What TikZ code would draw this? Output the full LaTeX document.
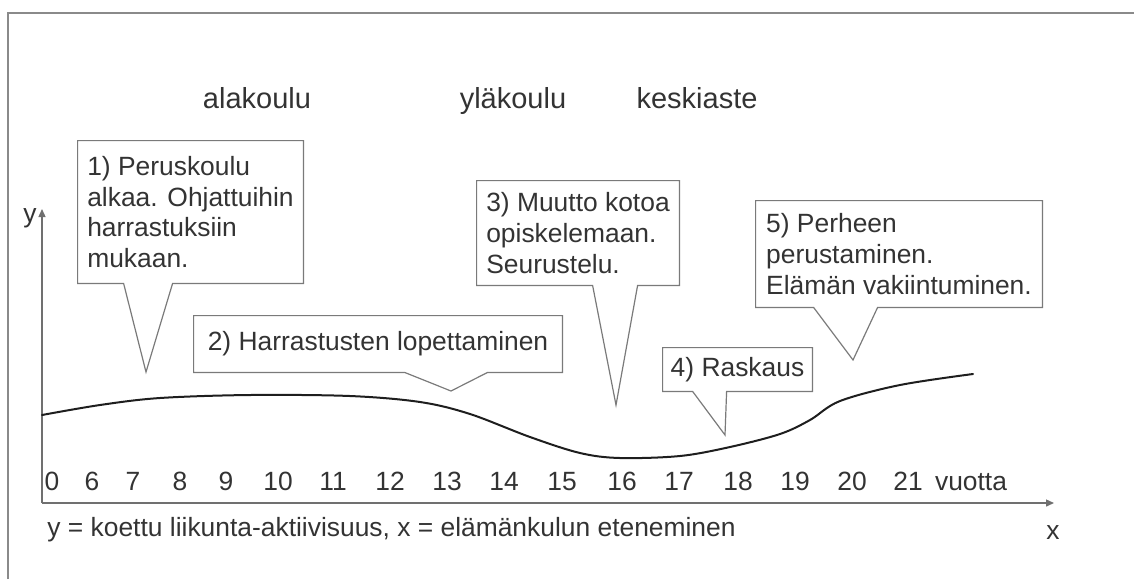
\documentclass[tikz,border=0pt]{standalone}
\usepackage{fontspec}
\setmainfont{Liberation Sans}
\usepackage{xcolor}
\definecolor{lifeText}{HTML}{333333}
\definecolor{lifeFrame}{HTML}{8A8A8A}
\definecolor{lifeAxis}{HTML}{707070}
\definecolor{lifeBox}{HTML}{7A7A7A}
\definecolor{lifeCurve}{HTML}{1E1E1E}
\usetikzlibrary{arrows.meta,calc}
\newcommand{\lifefont}{\fontsize{13.2}{15.4}\selectfont}
\newcommand{\stagefont}{\fontsize{14.5}{17}\selectfont}
\tikzset{
    bubble/.style={
        rectangle,
        align=left,
        inner sep=0pt,
        font=\lifefont,
        text=lifeText
    },
    bubbleline/.style={
        draw=lifeBox,
        line width=0.6pt,
        line join=miter
    },
    stage/.style={
        font=\stagefont,
        text=lifeText,
        inner sep=0pt,
        anchor=base
    },
    yearlabel/.style={
        font=\lifefont,
        text=lifeText,
        inner sep=0pt,
        anchor=base
    },
    axisline/.style={
        draw=lifeAxis,
        line width=0.7pt,
        -{Triangle[length=4pt,width=3.5pt]}
    },
    frameline/.style={
        draw=lifeFrame,
        line width=0.8pt
    },
    curve/.style={
        draw=lifeCurve,
        line width=1pt,
        line cap=round
    }
}

\begin{document}
\begin{tikzpicture}[x=0.5pt,y=-0.5pt]
    \useasboundingbox (0,0) rectangle (1134,579);
    \draw[frameline] (8,579) -- (8,13) -- (1134,13);

    % school stages
    \node[stage] (ala) at (257,108) {alakoulu};
    \node[stage] (yla) at (513,108) {yläkoulu};
    \node[stage] (keski) at (697,108) {keskiaste};

    % axes
    \coordinate (origin) at (42,503);
    \coordinate (ytop) at (42,209);
    \coordinate (xend) at (1054,503);
    \draw[axisline] (origin) -- (ytop);
    \draw[axisline] (origin) -- (xend);
    \node[yearlabel] (ylab) at (30,222) {y};
    \node[yearlabel] (xlab) at (1053,539) {x};

    \foreach \yr/\px in {0/52,6/92,7/133,8/180,9/226,10/278,11/333,12/390,13/447,
                         14/504,15/562,16/622,17/679,18/738,19/795,20/852,21/908}
        \node[yearlabel] (yr\yr) at (\px,490) {\yr};
    \node[yearlabel] (vuotta) at (971,490) {vuotta};
    \node[yearlabel, anchor=base west] (legend) at (47,536)
        {y = koettu liikunta-aktiivisuus, x = elämänkulun eteneminen};

    % activity curve
    \draw[curve] plot[smooth, tension=0.55] coordinates {
        (42,415) (100,405) (160,398) (250,395) (350,396) (420,402) (470,414)
        (530,437) (580,453) (620,458) (680,456) (730,447) (780,434)
        (810,420) (840,401) (900,385) (973,374)};

    % callout tips
    \coordinate (t1) at (146,372);
    \coordinate (t2) at (451,391);
    \coordinate (t3) at (616,405);
    \coordinate (t4) at (725,435);
    \coordinate (t5) at (853,360);

    % speech bubbles
    \node[bubble, minimum width=112.5pt, minimum height=71pt] (b1) at (190.5,212)
        {1) Peruskoulu\\alkaa. Ohjattuihin\\harrastuksiin\\mukaan.};
    \node[bubble, minimum width=184pt, minimum height=28pt] (b2) at (378,344)
        {2) Harrastusten lopettaminen};
    \node[bubble, minimum width=101pt, minimum height=52pt] (b3) at (578,233)
        {3) Muutto kotoa\\opiskelemaan.\\Seurustelu.};
    \node[bubble, minimum width=74.5pt, minimum height=21.5pt] (b4) at (737.5,369.5)
        {4) Raskaus};
    \node[bubble, minimum width=143pt, minimum height=53pt] (b5) at (899,254)
        {5) Perheen\\perustaminen.\\Elämän vakiintuminen.};

    \draw[bubbleline] (b1.south west) -- (b1.north west) -- (b1.north east) -- (b1.south east)
        -- ($(b1.south west)+(95,0)$) -- (t1) -- ($(b1.south west)+(46,0)$) -- cycle;
    \draw[bubbleline] (b2.south west) -- (b2.north west) -- (b2.north east) -- (b2.south east)
        -- ($(b2.south west)+(294,0)$) -- (t2) -- ($(b2.south west)+(211,0)$) -- cycle;
    \draw[bubbleline] (b3.south west) -- (b3.north west) -- (b3.north east) -- (b3.south east)
        -- ($(b3.south west)+(161,0)$) -- (t3) -- ($(b3.south west)+(116,0)$) -- cycle;
    \draw[bubbleline] (b4.south west) -- (b4.north west) -- (b4.north east) -- (b4.south east)
        -- ($(b4.south west)+(64,0)$) -- (t4) -- ($(b4.south west)+(30,0)$) -- cycle;
    \draw[bubbleline] (b5.south west) -- (b5.north west) -- (b5.north east) -- (b5.south east)
        -- ($(b5.south west)+(122,0)$) -- (t5) -- ($(b5.south west)+(58,0)$) -- cycle;
\end{tikzpicture}
\end{document}
